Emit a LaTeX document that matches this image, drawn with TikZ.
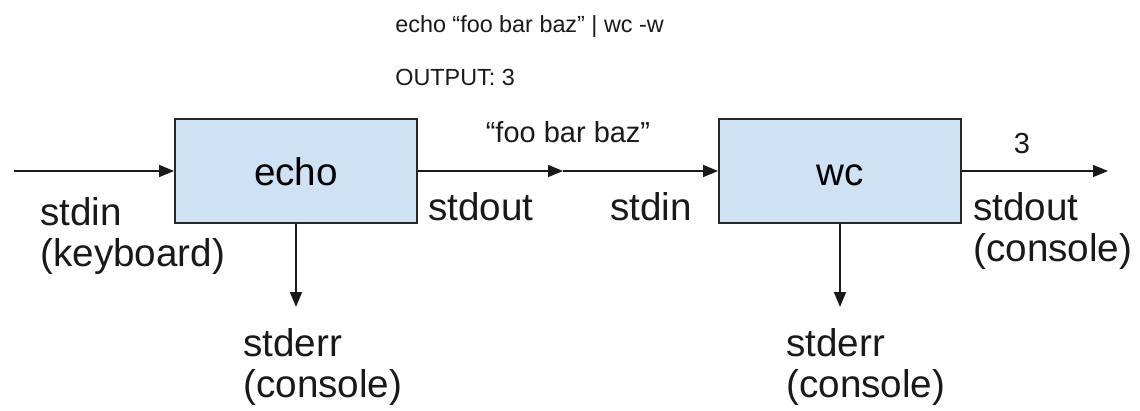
\documentclass[tikz,border=0pt]{standalone}
\usepackage{fontspec}
\setmainfont{Liberation Sans}
\usepackage{xcolor}
\usepackage{tikz}
\usetikzlibrary{arrows.meta}
\definecolor{procBlue}{RGB}{207,226,243}
\definecolor{lineGrey}{RGB}{40,40,40}

\begin{document}
\begin{tikzpicture}[
  x=0.02cm, y=-0.02cm,
  font=\fontsize{22}{23.3}\selectfont,
  proc/.style={draw=lineGrey, line width=1.1pt, fill=procBlue,
               minimum width=4.84cm, minimum height=2.08cm, inner sep=0pt,
               text height=17pt, text depth=0pt},
  lbl/.style={align=left, inner sep=0pt, text=black!90},
  flow/.style={inner sep=0pt, font=\fontsize{16.5}{18}\selectfont, text=black!90},
  cmd/.style={inner sep=0pt, font=\fontsize{13.3}{15}\selectfont, text=black!90},
  arr/.style={-{Triangle[length=8.5pt,width=6.8pt]}, line width=0.85pt, black!90}
]
\useasboundingbox (0,0) rectangle (1140,410);

\node[cmd, anchor=base west] (cmdline) at (395,32) {echo “foo bar baz” | wc -w};
\node[cmd, anchor=base west] (result) at (395,85) {OUTPUT: 3};

\node[proc] (echo) at (296,171) {echo};
\node[proc] (wc) at (840,171) {wc};

\coordinate (kbd) at (14,171);
\coordinate (pipe) at (563,171);
\coordinate (out) at (1108,171);
\coordinate (err1) at (296,307);
\coordinate (err2) at (840,307);

\draw[arr] (kbd) -- (echo.west);
\draw[arr] (echo.east) -- (pipe);
\draw[arr] (pipe) -- (wc.west);
\draw[arr] (wc.east) -- (out);
\draw[arr] (echo.south) -- (err1);
\draw[arr] (wc.south) -- (err2);

\node[flow, anchor=base] (data) at (568,142) {“foo bar baz”};
\node[flow, anchor=base] (count) at (1022,153) {3};

% base of a two-line label is the baseline of its second line
\node[lbl, anchor=base west] (inlbl) at (40,266) {stdin\\(keyboard)};
\node[lbl, anchor=base west] (outlbl1) at (428,220) {stdout};
\node[lbl, anchor=base east] (inlbl2) at (692,220) {stdin};
\node[lbl, anchor=base west] (outlbl2) at (973,261) {stdout\\(console)};
\node[lbl, anchor=base west] (errlbl1) at (243,397) {stderr\\(console)};
\node[lbl, anchor=base west] (errlbl2) at (786,397) {stderr\\(console)};

\end{tikzpicture}
\end{document}
